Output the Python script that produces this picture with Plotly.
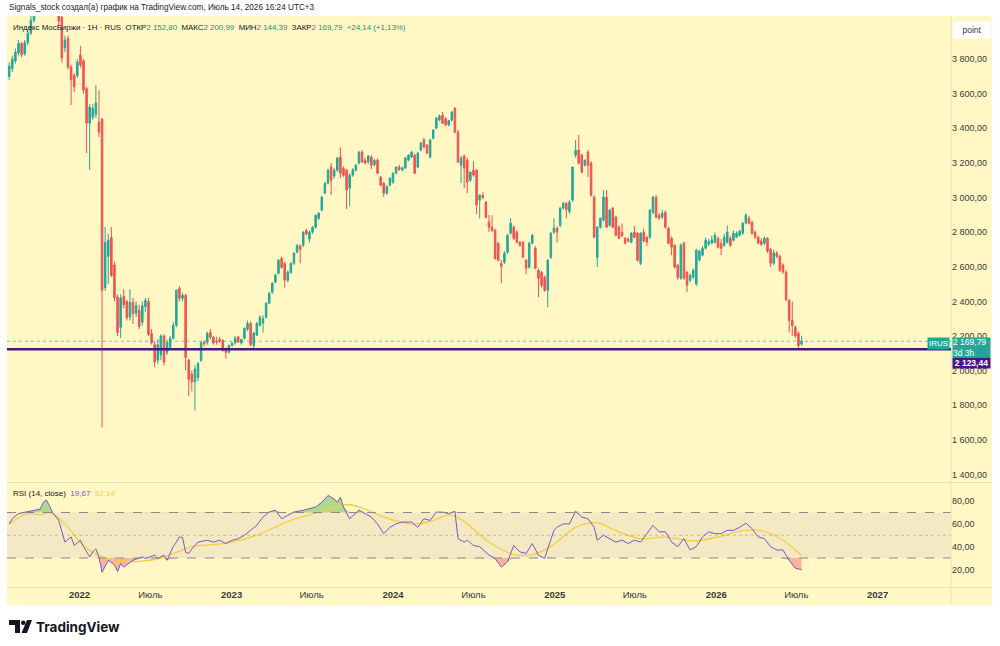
import pandas as pd
import plotly.graph_objects as go

# ---------------- DATA ----------------
START = "2021-07-26"
END = "2026-07-13"
GAP_WEEKS = ["2022-02-28", "2022-03-07", "2022-03-14"]  # no trading

opens = [3700,3745,3790,3835,3890,3830,3895,3950,4025,4080,4065,4110,4090,4150,4210,4250,4170,4040,3864,3920,
         3755,3705,3705,3823,3790,3630,3430,3465,3480,3436,3453,2480,2660,2770,2610,2425,2250,2430,2400,2310,
         2395,2330,2350,2280,2370,2400,2215,2150,2060,2090,2200,2106,2135,2187,2262,2476,2418,2435,2060,1980,
         1935,1960,2060,2165,2164,2221,2193,2170,2180,2175,2128,2106,2146,2160,2195,2160,2187,2239,2273,2146,
         2204,2262,2275,2308,2389,2453,2511,2563,2649,2620,2522,2568,2620,2684,2720,2724,2810,2760,2800,2829,
         2880,2927,3025,3083,3176,3124,3158,3234,3170,3158,3054,3130,3158,3199,3262,3215,3205,3234,3190,3216,
         3118,3083,3025,3072,3089,3141,3176,3160,3170,3216,3234,3245,3176,3274,3332,3303,3234,3343,3401,3448,
         3476,3455,3420,3448,3517,3378,3187,3240,3216,3100,3158,3158,2985,3014,2973,2858,2829,2811,2736,2620,
         2626,2684,2794,2829,2800,2742,2742,2638,2597,2736,2707,2580,2568,2539,2464,2655,2800,2823,2840,2939,
         2967,2920,2985,3245,3274,3245,3187,3262,3199,3002,2655,2829,2869,3002,2840,2939,2887,2829,2800,2765,
         2760,2742,2800,2794,2620,2800,2770,2771,2915,3002,2898,2887,2915,2823,2765,2724,2609,2534,2736,2568,
         2522,2540,2500,2640,2667,2707,2730,2738,2740,2765,2735,2724,2742,2765,2753,2771,2782,2794,2852,2881,
         2858,2800,2771,2750,2736,2765,2700,2620,2680,2660,2610,2568,2406,2290,2250,2215,2152.80]
highs = [3780,3820,3860,3910,3900,3910,3975,4050,4100,4120,4130,4150,4170,4230,4290,4280,4190,4060,3935,3935,
         3765,3720,3800,3876,3800,3640,3540,3540,3650,3621,3460,2830,2790,2830,2630,2440,2440,2470,2410,2470,
         2420,2400,2380,2400,2420,2420,2240,2170,2180,2210,2210,2180,2200,2280,2470,2487,2450,2445,2070,2000,
         2030,2050,2170,2175,2225,2240,2200,2195,2195,2180,2135,2150,2165,2200,2200,2185,2250,2290,2285,2225,
         2280,2320,2320,2395,2455,2510,2560,2645,2660,2630,2580,2625,2685,2730,2730,2805,2820,2810,2835,2900,
         2915,3010,3090,3165,3200,3170,3235,3290,3180,3165,3140,3170,3195,3270,3275,3230,3245,3245,3225,3225,
         3125,3090,3070,3118,3145,3180,3190,3180,3235,3250,3270,3255,3265,3320,3345,3310,3340,3395,3465,3480,
         3495,3465,3450,3500,3520,3390,3240,3250,3230,3150,3210,3165,3020,3030,2980,2900,2898,2820,2745,2640,
         2690,2790,2880,2840,2810,2750,2750,2645,2745,2790,2720,2590,2575,2550,2645,2800,2880,2835,2945,2975,
         2975,2985,3180,3332,3361,3255,3220,3275,3210,3015,2835,2885,3043,3043,2935,2945,2895,2840,2850,2770,
         2770,2800,2835,2800,2800,2820,2780,2935,3010,3015,2910,2927,2925,2830,2775,2730,2615,2735,2745,2575,
         2560,2590,2705,2700,2720,2770,2760,2780,2800,2775,2760,2790,2840,2780,2810,2805,2815,2860,2910,2895,
         2865,2810,2780,2765,2775,2770,2710,2700,2690,2670,2620,2580,2415,2400,2260,2225,2200.99]
lows = [3680,3725,3775,3820,3810,3820,3880,3940,4010,4050,4055,4060,4080,4140,4190,4150,3990,3780,3840,3740,
        3535,3610,3690,3750,3600,3257,3160,3450,3460,3350,1672,2460,2500,2540,2400,2200,2190,2360,2290,2290,
        2270,2310,2240,2260,2340,2200,2150,2020,2040,2060,2030,2090,2120,2180,2250,2400,2400,2002,1851,1880,
        1770,1940,2050,2140,2150,2180,2150,2150,2160,2110,2070,2100,2140,2150,2160,2150,2180,2230,2140,2130,
        2200,2255,2220,2300,2385,2445,2505,2555,2590,2480,2510,2560,2610,2680,2620,2715,2780,2740,2790,2820,
        2870,2920,3020,3075,3014,3110,3150,3112,3120,2933,2950,3120,3150,3190,3200,3190,3195,3164,3180,3135,
        3065,3002,3015,3065,3080,3135,3155,3150,3165,3210,3228,3135,3170,3268,3285,3250,3225,3335,3395,3440,
        3425,3410,3410,3440,3370,3200,3083,3054,3025,3090,3120,2904,2880,2990,2880,2800,2800,2640,2630,2505,
        2615,2675,2785,2755,2735,2715,2650,2557,2590,2730,2585,2424,2480,2455,2366,2645,2790,2740,2830,2930,
        2880,2905,2975,3230,3190,3140,3180,3118,3005,2765,2597,2820,2860,2825,2830,2825,2775,2760,2770,2730,
        2740,2735,2765,2630,2610,2740,2720,2760,2905,2880,2870,2875,2820,2730,2667,2590,2522,2525,2525,2453,
        2510,2530,2490,2630,2660,2700,2720,2730,2735,2705,2667,2715,2735,2715,2745,2765,2775,2785,2845,2845,
        2785,2760,2730,2720,2725,2680,2600,2610,2650,2570,2560,2400,2220,2200,2190,2123.44,2144.39]
closes = [3760,3800,3840,3890,3825,3895,3950,4025,4080,4065,4110,4090,4150,4210,4250,4170,4020,3806,3910,3755,
          3680,3640,3783,3766,3620,3430,3523,3515,3546,3378,2464,2740,2755,2550,2420,2220,2420,2380,2305,2395,
          2330,2375,2255,2375,2405,2210,2160,2050,2150,2200,2050,2164,2187,2262,2464,2418,2435,2077,1950,1935,
          2010,2040,2160,2155,2216,2193,2160,2165,2170,2117,2106,2146,2158,2187,2165,2180,2244,2273,2150,2216,
          2273,2308,2300,2389,2447,2505,2551,2638,2597,2522,2570,2620,2678,2724,2700,2800,2790,2800,2829,2898,
          2910,3002,3083,3158,3100,3158,3228,3141,3129,3043,3129,3160,3187,3262,3205,3200,3240,3187,3215,3141,
          3072,3025,3065,3112,3141,3176,3160,3172,3228,3245,3262,3141,3257,3315,3291,3257,3332,3390,3459,3471,
          3430,3420,3445,3494,3378,3205,3228,3170,3089,3147,3130,2956,3014,3000,2886,2829,2811,2649,2638,2603,
          2678,2782,2852,2765,2742,2725,2655,2592,2736,2782,2592,2534,2493,2464,2638,2794,2823,2800,2939,2967,
          2930,2973,3176,3274,3199,3147,3216,3187,3014,2771,2829,2880,3002,2829,2927,2829,2782,2765,2780,2736,
          2750,2794,2770,2638,2794,2750,2742,2927,3002,2887,2881,2910,2829,2736,2713,2597,2539,2724,2534,2493,
          2551,2580,2696,2690,2707,2753,2745,2755,2782,2713,2707,2771,2800,2724,2794,2794,2805,2852,2898,2852,
          2794,2771,2736,2730,2765,2690,2620,2680,2660,2580,2570,2410,2290,2260,2200,2145.65,2169.79]

# RSI(14): bar number -> value
rsi_bar = [0,1,3,6,8,10,11,12,13,14,16,17,18,20,21,23,24,26,27,28,29,30,32,34,35,36,37,40,43,44,47,48,50,51,53,55,
           56,57,58,59,61,64,66,68,70,72,74,76,78,80,82,84,86,88,90,92,95,97,99,101,103,105,106,107,108,110,112,113,
           115,117,119,121,123,125,127,130,132,134,136,138,140,142,144,145,147,148,150,152,155,157,159,161,163,165,
           167,169,171,173,174,176,177,179,181,183,185,187,189,190,192,194,196,198,200,202,204,206,208,210,212,214,
           216,218,220,222,224,226,228,230,232,234,236,238,240,242,244,246,248,250,252,254,256]
rsi_val = [60,64.5,69,71,72,73,79,81,76,70,63,54,44,48.5,41,45.6,40,31,35.4,38,31,17.5,28,24,18,25,22,28,31,29.6,
           32.5,29.6,32.5,28,40,48.5,48,35,34,38,44,45.6,44,45.6,42.7,45.6,47,50,54.3,58.7,66,70.4,72,64.5,67.5,
           70.4,72,73.3,74.8,79,85,82,79,83.5,74.8,64.5,69,72,69,66,60,51.4,57,60,61.6,61.6,57,64.5,63,70.4,70.4,
           69,71,47,44,45.6,41,40,32.5,29.6,22,26.6,41,35.4,34,42.7,32.5,29.6,38,54.3,57,60,60,71,66,64.5,57,45.6,
           50,47,44,45.6,42.7,45.6,44,51.4,58.7,53,53,44,40,47,37,40,48.5,53,51.4,51.4,54.3,54.3,57,60.7,55.8,48.5,
           47,40,37,37,28,21,19.67]
# RSI moving average (yellow)
ma_bar = [0,6,10,13,18,24,30,37,42,49,55,59,70,80,90,101,109,113,121,130,136,142,146,155,163,169,175,183,190,196,
          204,212,221,229,237,243,250,256]
ma_val = [60,69,68,70,60,41,31,27.5,27,30,36,40,43,50,62,71,77,75,66,60,62,68,64,44,33,33,40,57,61,54,47,48.5,45,
          48.5,54,54,45.6,32.14]

price_ticks = [1400,1600,1800,2000,2200,2400,2600,2800,3000,3200,3400,3600,3800]
price_tick_text = ["1 400,00","1 600,00","1 800,00","2 000,00","2 200,00","2 400,00","2 600,00",
                   "2 800,00","3 000,00","3 200,00","3 400,00","3 600,00","3 800,00"]
rsi_ticks = [20, 40, 60, 80]
rsi_tick_text = ["20,00", "40,00", "60,00", "80,00"]
date_ticks = ["2022-01-01","2022-07-01","2023-01-01","2023-07-01","2024-01-01","2024-07-01",
              "2025-01-01","2025-07-01","2026-01-01","2026-07-01","2027-01-01"]
date_tick_text = ["<b>2022</b>","Июль","<b>2023</b>","Июль","<b>2024</b>","Июль",
                  "<b>2025</b>","Июль","<b>2026</b>","Июль","<b>2027</b>"]
last_close = 2169.79
level_line = 2123.44
rsi_last, rsi_ma_last = 19.67, 32.14

# ---------------- BUILD ----------------
all_weeks = pd.date_range(START, END, freq="7D")
dates = [d for d in all_weeks if d.strftime("%Y-%m-%d") not in GAP_WEEKS]
assert len(dates) == len(closes) == len(opens) == len(highs) == len(lows)

W, H = 1000, 646
L, R, T, B = 7, 951, 16, 587
def px(x): return (x - L) / (R - L)
def py(y): return (B - y) / (B - T)

BG = "#FFF8C4"
UP, DN = "#26A69A", "#EF5350"
SEP = "#E8E0B4"
TXT = "#3A3A3A"
FONT = "Liberation Sans"

fig = go.Figure()
fig.add_trace(go.Candlestick(
    x=dates, open=opens, high=highs, low=lows, close=closes,
    increasing=dict(line=dict(color=UP, width=1), fillcolor=UP),
    decreasing=dict(line=dict(color=DN, width=1), fillcolor=DN),
    whiskerwidth=0, xaxis="x", yaxis="y", hoverinfo="skip"))

rx = [dates[i] for i in rsi_bar]
mx = [dates[i] for i in ma_bar]
fig.add_trace(go.Scatter(x=rx, y=[70]*len(rx), mode="lines", line=dict(width=0),
                         xaxis="x2", yaxis="y2", hoverinfo="skip"))
fig.add_trace(go.Scatter(x=rx, y=[max(v, 70) for v in rsi_val], mode="lines", line=dict(width=0),
                         fill="tonexty", fillcolor="rgba(76,175,80,0.45)", xaxis="x2", yaxis="y2", hoverinfo="skip"))
fig.add_trace(go.Scatter(x=rx, y=[30]*len(rx), mode="lines", line=dict(width=0),
                         xaxis="x2", yaxis="y2", hoverinfo="skip"))
fig.add_trace(go.Scatter(x=rx, y=[min(v, 30) for v in rsi_val], mode="lines", line=dict(width=0),
                         fill="tonexty", fillcolor="rgba(242,54,69,0.35)", xaxis="x2", yaxis="y2", hoverinfo="skip"))
fig.add_trace(go.Scatter(x=mx, y=ma_val, mode="lines", line=dict(color="#F3D03E", width=1.3, shape="spline"),
                         xaxis="x2", yaxis="y2", hoverinfo="skip"))
fig.add_trace(go.Scatter(x=rx, y=rsi_val, mode="lines", line=dict(color="#7E57C2", width=1),
                         xaxis="x2", yaxis="y2", hoverinfo="skip"))

xr = ["2021-07-21", "2027-06-16"]
rb = [dict(bounds=["2022-02-24", "2022-03-17"])]
common_x = dict(type="date", range=xr, rangebreaks=rb, showgrid=False, zeroline=False,
                showline=False, ticks="", fixedrange=True)

shapes = [
    dict(type="rect", xref="paper", yref="paper", x0=px(7), x1=px(992), y0=py(605), y1=py(16),
         fillcolor=BG, line=dict(width=0), layer="below"),
    dict(type="rect", xref="paper", yref="y2", x0=0, x1=1, y0=30, y1=70,
         fillcolor="rgba(126,87,194,0.09)", line=dict(width=0), layer="below"),
    dict(type="line", xref="paper", yref="y2", x0=0, x1=1, y0=70, y1=70,
         line=dict(color="#8A8A8A", width=1, dash="dash")),
    dict(type="line", xref="paper", yref="y2", x0=0, x1=1, y0=30, y1=30,
         line=dict(color="#8A8A8A", width=1, dash="dash")),
    dict(type="line", xref="paper", yref="y2", x0=0, x1=1, y0=50, y1=50,
         line=dict(color="rgba(138,138,138,0.45)", width=1, dash="dot")),
    dict(type="line", xref="paper", yref="paper", x0=px(951), x1=px(951), y0=py(605), y1=py(16),
         line=dict(color=SEP, width=1)),
    dict(type="line", xref="paper", yref="paper", x0=px(7), x1=px(992), y0=py(482.5), y1=py(482.5),
         line=dict(color=SEP, width=1)),
    dict(type="line", xref="paper", yref="paper", x0=px(7), x1=px(992), y0=py(587.5), y1=py(587.5),
         line=dict(color=SEP, width=1)),
    dict(type="line", xref="paper", yref="y", x0=0, x1=1, y0=last_close, y1=last_close,
         line=dict(color="rgba(38,166,154,0.65)", width=1, dash="dot")),
    dict(type="line", xref="paper", yref="y", x0=0, x1=1, y0=level_line, y1=level_line,
         line=dict(color="#4A177F", width=2.5)),
    # TradingView logo glyph
    dict(type="rect", xref="paper", yref="paper", x0=px(9), x1=px(20), y0=py(625), y1=py(620),
         fillcolor="#131722", line=dict(width=0)),
    dict(type="rect", xref="paper", yref="paper", x0=px(15), x1=px(20), y0=py(633), y1=py(620),
         fillcolor="#131722", line=dict(width=0)),
    dict(type="circle", xref="paper", yref="paper", x0=px(21), x1=px(25.5), y0=py(625), y1=py(620.5),
         fillcolor="#131722", line=dict(width=0)),
    dict(type="path", xref="paper", yref="paper",
         path=f"M {px(27)} {py(620)} L {px(32)} {py(620)} L {px(27)} {py(633)} L {px(21.5)} {py(633)} Z",
         fillcolor="#131722", line=dict(width=0)),
]

G = "#089981"
legend_txt = (f"<span style='color:#131722'>Индекс МосБиржи · 1Н · RUS</span>  "
              f"<span style='color:#131722'>ОТКР</span><span style='color:{G}'>2 152,80</span>  "
              f"<span style='color:#131722'>МАКС</span><span style='color:{G}'>2 200,99</span>  "
              f"<span style='color:#131722'>МИН</span><span style='color:{G}'>2 144,39</span>  "
              f"<span style='color:#131722'>ЗАКР</span><span style='color:{G}'>2 169,79</span>  "
              f"<span style='color:{G}'>+24,14 (+1,13%)</span>")
rsi_txt = (f"<span style='color:#131722'>RSI (14, close)</span>  "
           f"<span style='color:#7E57C2'>{rsi_last:.2f}</span>  ".replace(".", ",") +
           f"<span style='color:#F3D03E'>{rsi_ma_last:.2f}</span>".replace(".", ","))

def fmt(v):
    return f"{v:,.2f}".replace(",", " ").replace(".", ",")

annotations = [
    dict(text="Signals_stock создал(а) график на TradingView.com, Июль 14, 2026 16:24 UTC+3",
         xref="paper", yref="paper", x=px(7), y=py(8), xanchor="left", yanchor="middle",
         showarrow=False, font=dict(family=FONT, size=8.2, color="#222")),
    dict(text=legend_txt, xref="paper", yref="paper", x=px(11), y=py(28), xanchor="left", yanchor="middle",
         showarrow=False, font=dict(family=FONT, size=7.9, color="#131722")),
    dict(text=rsi_txt, xref="paper", yref="paper", x=px(11), y=py(493), xanchor="left", yanchor="middle",
         showarrow=False, font=dict(family=FONT, size=8, color="#131722")),
    dict(text="point", xref="paper", yref="paper", x=px(971.5), y=py(30), xanchor="center", yanchor="middle",
         showarrow=False, font=dict(family=FONT, size=8.5, color="#333"), bgcolor="#FFFFFF",
         width=34, height=14),
    dict(text="IRUS", xref="paper", yref="paper", x=px(950), y=py(343.5), xanchor="right", yanchor="middle",
         showarrow=False, font=dict(family=FONT, size=8, color="#FFFFFF"), bgcolor=UP,
         width=21, height=11, borderpad=0),
    dict(text=f"{fmt(last_close)}<br>3d 3h", xref="paper", yref="paper", x=px(952), y=py(347.5),
         xanchor="left", yanchor="middle", showarrow=False, align="left",
         font=dict(family=FONT, size=8.5, color="#FFFFFF"), bgcolor=UP, width=37, height=19, borderpad=0),
    dict(text=f"<b>{fmt(level_line)}</b>", xref="paper", yref="paper", x=px(952), y=py(362.5),
         xanchor="left", yanchor="middle", showarrow=False,
         font=dict(family=FONT, size=8.5, color="#FFFFFF"), bgcolor="#4A148C", width=37, height=10, borderpad=0),
    dict(text="<b>TradingView</b>", xref="paper", yref="paper", x=px(34), y=py(626.5), xanchor="left",
         yanchor="middle", showarrow=False, font=dict(family="Inter", size=13.5, color="#131722")),
]

fig.update_layout(
    width=W, height=H, margin=dict(l=L, r=W - R, t=T, b=H - B),
    paper_bgcolor="#FFFFFF", plot_bgcolor="rgba(0,0,0,0)",
    showlegend=False, hovermode=False,
    xaxis=dict(**common_x, domain=[0, 1], anchor="y", showticklabels=False,
               rangeslider=dict(visible=False)),
    xaxis2=dict(**common_x, domain=[0, 1], anchor="y2", matches="x",
                tickvals=date_ticks, ticktext=date_tick_text,
                tickfont=dict(family=FONT, size=9.5, color=TXT)),
    yaxis=dict(domain=[py(482.5), 1], range=[1353.7, 4049], side="right", showgrid=False,
               zeroline=False, tickvals=price_ticks, ticktext=price_tick_text, ticks="",
               tickfont=dict(family=FONT, size=9, color=TXT), fixedrange=True),
    yaxis2=dict(domain=[0, py(483.5)], range=[4.5, 95.5], side="right", showgrid=False,
                zeroline=False, tickvals=rsi_ticks, ticktext=rsi_tick_text, ticks="",
                tickfont=dict(family=FONT, size=9, color=TXT), fixedrange=True),
    shapes=shapes, annotations=annotations,
)

fig.write_html("out.html")
